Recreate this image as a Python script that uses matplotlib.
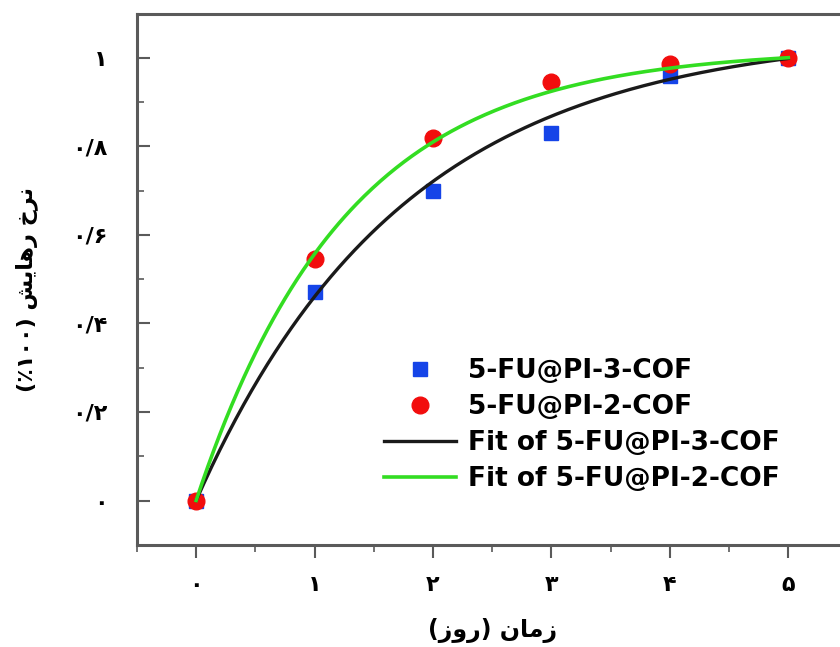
import numpy as np
import matplotlib
matplotlib.use("Agg")
import matplotlib.pyplot as plt
from matplotlib.ticker import FixedLocator, MultipleLocator

# ---- data ----
days = [0, 1, 2, 3, 4, 5]
release_pi3 = [0.0, 0.47, 0.70, 0.83, 0.96, 1.0]   # 5-FU@PI-3-COF (blue squares)
release_pi2 = [0.0, 0.545, 0.82, 0.945, 0.985, 1.0]  # 5-FU@PI-2-COF (red circles)

# first-order release fit parameters: y = A * (1 - exp(-k t))
fit_pi3 = {"A": 1.06, "k": 0.57}
fit_pi2 = {"A": 1.02, "k": 0.79}

x_ticks = [0, 1, 2, 3, 4, 5]
x_ticklabels = ["\u06f0", "\u06f1", "\u06f2", "\u06f3", "\u06f4", "\u06f5"]
y_ticks = [0, 0.2, 0.4, 0.6, 0.8, 1.0]
y_ticklabels = ["\u06f0", "\u06f0/\u06f2", "\u06f0/\u06f4", "\u06f0/\u06f6", "\u06f0/\u06f8", "\u06f1"]

labels = ["5-FU@PI-3-COF", "5-FU@PI-2-COF",
          "Fit of 5-FU@PI-3-COF", "Fit of 5-FU@PI-2-COF"]

# Persian axis titles "زمان (روز)" and "نرخ رهایش (۱۰۰٪)", written in
# presentation forms and visual (left-to-right) order because matplotlib does no Arabic shaping
xlabel = "(\ufeaf\ufeed\ufead) \ufee5\ufe8e\ufee3\ufeaf"
ylabel = "(\u066a\u06f1\u06f0\u06f0) \ufeb6\ufbfe\ufe8e\ufeeb\ufead \ufea5\ufeae\ufee7"

fig = plt.figure(figsize=(8.4, 6.47), dpi=100)
ax = fig.add_axes([0.163, 0.158, 0.846, 0.821])

t = np.linspace(0, 5, 300)
def fit_curve(p):
    return p["A"] * (1 - np.exp(-p["k"] * t))

ax.plot(days, release_pi3, linestyle="none", marker="s", markersize=10,
        color="#1544e8", label=labels[0], zorder=3)
ax.plot(days, release_pi2, linestyle="none", marker="o", markersize=12,
        color="#f20d0d", label=labels[1], zorder=4)
ax.plot(t, fit_curve(fit_pi3), color="#1a1a1a", lw=2.4, label=labels[2], zorder=5)
ax.plot(t, fit_curve(fit_pi2), color="#33dd22", lw=2.6, label=labels[3], zorder=6)

ax.set_xlim(-0.5, 5.5)
ax.set_ylim(-0.1, 1.1)

ax.xaxis.set_major_locator(FixedLocator(x_ticks))
ax.set_xticklabels(x_ticklabels)
ax.xaxis.set_minor_locator(MultipleLocator(0.5))
ax.yaxis.set_major_locator(FixedLocator(y_ticks))
ax.set_yticklabels(y_ticklabels)
ax.yaxis.set_minor_locator(MultipleLocator(0.1))

spine_col = "#5a5a5a"
for s in ax.spines.values():
    s.set_color(spine_col)
    s.set_linewidth(2.2)

ax.tick_params(axis="x", which="major", direction="out", length=9, width=1.5,
               color=spine_col, pad=13)
ax.tick_params(axis="x", which="minor", direction="out", length=5, width=1.2,
               color=spine_col)
ax.tick_params(axis="y", which="major", direction="in", length=9, width=1.5,
               color=spine_col, pad=21)
ax.tick_params(axis="y", which="minor", direction="in", length=5, width=1.2,
               color=spine_col)

for lab in ax.get_xticklabels() + ax.get_yticklabels():
    lab.set_fontfamily("DejaVu Sans")
    lab.set_fontweight("bold")
    lab.set_fontsize(16)

ax.set_xlabel(xlabel, fontsize=17, fontweight="bold", family="DejaVu Sans", labelpad=16)
ax.set_ylabel(ylabel, fontsize=16, fontweight="bold", family="DejaVu Sans")
ax.yaxis.set_label_coords(-0.139, 0.48)

leg = ax.legend(loc="upper left", bbox_to_anchor=(0.435, 0.475), bbox_transform=fig.transFigure,
                frameon=False, prop={"family": "DejaVu Sans", "weight": "bold", "size": 19},
                handlelength=2.75, handletextpad=0.42, labelspacing=0.38, borderpad=0.2)

fig.savefig("out.png", dpi=100)
